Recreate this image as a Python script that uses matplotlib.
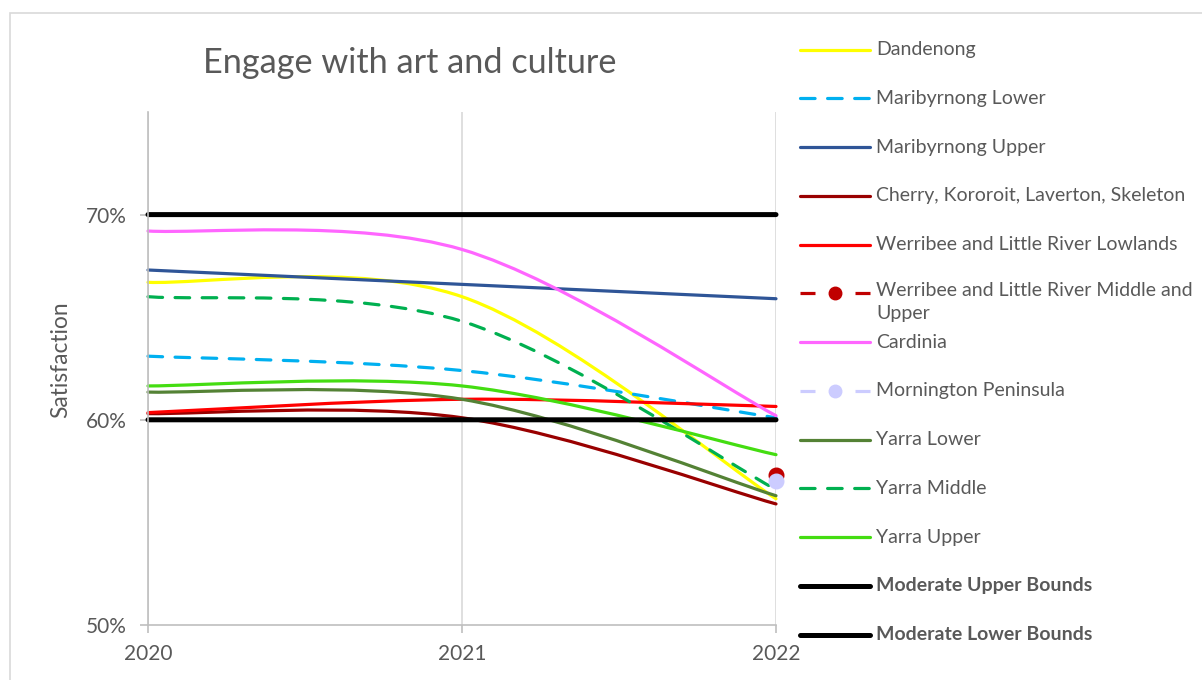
import numpy as np
import matplotlib.pyplot as plt
from matplotlib.path import Path
from matplotlib.patches import PathPatch, Rectangle
from matplotlib.lines import Line2D

plt.rcParams['font.family'] = ['Lato', 'DejaVu Sans']
plt.rcParams['lines.scale_dashes'] = False

years = [2020, 2021, 2022]

# satisfaction, percent
dandenong = [66.7, 66.0, 56.15]
maribyrnong_lower = [63.1, 62.4, 60.1]
maribyrnong_upper = [67.3, 66.6, 65.9]
cherry = [60.3, 60.1, 55.9]
werribee_lowlands = [60.35, 61.0, 60.65]
werribee_mid_upper = [np.nan, np.nan, 57.3]
cardinia = [69.2, 68.3, 60.2]
mornington = [np.nan, np.nan, 57.0]
yarra_lower = [61.35, 61.0, 56.3]
yarra_middle = [66.0, 64.8, 56.6]
yarra_upper = [61.65, 61.65, 58.3]
upper_bounds = [70, 70, 70]
lower_bounds = [60, 60, 60]

GRAY = '#595959'
DASH = (0, (10.5, 9))

series = [
    ('Dandenong', dandenong, '#FFFF00', '-', None),
    ('Maribyrnong Lower', maribyrnong_lower, '#00B0F0', DASH, None),
    ('Maribyrnong Upper', maribyrnong_upper, '#2F5597', '-', None),
    ('Cherry, Kororoit, Laverton, Skeleton', cherry, '#990000', '-', None),
    ('Werribee and Little River Lowlands', werribee_lowlands, '#FF0000', '-', None),
    ('Werribee and Little River Middle and\nUpper', werribee_mid_upper, '#C00000', DASH, 'o'),
    ('Cardinia', cardinia, '#FF66FF', '-', None),
    ('Mornington Peninsula', mornington, '#CCCCFF', DASH, 'o'),
    ('Yarra Lower', yarra_lower, '#548235', '-', None),
    ('Yarra Middle', yarra_middle, '#00B050', DASH, None),
    ('Yarra Upper', yarra_upper, '#44DD11', '-', None),
    ('Moderate Upper Bounds', upper_bounds, '#000000', '-', None),
    ('Moderate Lower Bounds', lower_bounds, '#000000', '-', None),
]


def smooth_path(xs, ys):
    # bezier smoothing like Excel's "smoothed line"
    pts = np.column_stack([xs, ys])
    n = len(pts)
    verts = [pts[0]]
    codes = [Path.MOVETO]
    for i in range(n - 1):
        p0 = pts[max(i - 1, 0)]
        p1 = pts[i]
        p2 = pts[i + 1]
        p3 = pts[min(i + 2, n - 1)]
        verts += [p1 + (p2 - p0) / 6, p2 - (p3 - p1) / 6, p2]
        codes += [Path.CURVE4] * 3
    return Path(verts, codes)


W, H = 1202, 680
fig = plt.figure(figsize=(W / 100, H / 100), dpi=100)
fig.add_artist(Rectangle((10 / W, -0.1), 1.2, 1 - 13 / H + 0.1, transform=fig.transFigure,
                         fill=False, edgecolor='#D9D9D9', lw=1.2))
ax = fig.add_axes([148 / W, 1 - 625 / H, (776 - 148) / W, (625 - 112) / H])

for label, vals, color, ls, marker in series:
    vals = np.array(vals, dtype=float)
    ok = ~np.isnan(vals)
    xs = np.array(years, dtype=float)[ok]
    ys = vals[ok]
    bold = label.startswith('Moderate')
    lw = 3.6 if bold else 2.3
    if len(xs) > 1:
        ax.add_patch(PathPatch(smooth_path(xs, ys), fill=False, edgecolor=color, lw=lw,
                               linestyle=ls, clip_on=False, capstyle='round'))
    if marker:
        ax.plot(xs, ys, marker=marker, ms=10.5, color=color, ls='none', clip_on=False)

ax.set_xlim(2020, 2022)
ax.set_ylim(50, 75)
ax.set_xticks(years)
ax.set_xticklabels([str(y) for y in years])
ax.set_yticks([50, 60, 70])
ax.set_yticklabels(['50%', '60%', '70%'])
for s in ['top', 'right']:
    ax.spines[s].set_visible(False)
for s in ['left', 'bottom']:
    ax.spines[s].set_color('#BFBFBF')
    ax.spines[s].set_linewidth(1.2)
ax.xaxis.grid(True, color='#D9D9D9', lw=1.2)
ax.set_axisbelow(True)
ax.tick_params(axis='both', length=5.5, width=1.2, color='#BFBFBF', labelsize=15, labelcolor=GRAY)
ax.tick_params(axis='y', pad=10)
ax.tick_params(axis='x', pad=8)

fig.text(61 / W, 1 - 360 / H, 'Satisfaction', rotation=90, ha='center', va='center',
         fontsize=16.4, color=GRAY)
fig.text(410 / W, 1 - 63 / H, 'Engage with art and culture', ha='center', va='center',
         fontsize=24.7, color=GRAY)

# legend on the right
for i, (label, vals, color, ls, marker) in enumerate(series):
    y = 1 - (49.5 + i * 48.75) / H
    bold = label.startswith('Moderate')
    lw = 3.6 if bold else 2.3
    if marker:
        h = Line2D([800 / W, 835 / W, 870 / W], [y, y, y], transform=fig.transFigure, color=color,
                   lw=lw, dashes=(10.8, 28.8), marker=marker, ms=9, markevery=[1])
    else:
        h = Line2D([800 / W, 870 / W], [y, y], transform=fig.transFigure, color=color, lw=lw,
                   linestyle=ls, solid_capstyle='round', dash_capstyle='round')
    fig.add_artist(h)
    if '\n' in label:
        fig.text(876 / W, y + 11.5 / H, label, ha='left', va='top', fontsize=14, color=GRAY,
                 linespacing=1.45)
    else:
        fig.text(876 / W, y, label, ha='left', va='center', fontsize=14, color=GRAY,
                 fontweight='bold' if bold else 'normal')

fig.savefig('out.png', dpi=100)
